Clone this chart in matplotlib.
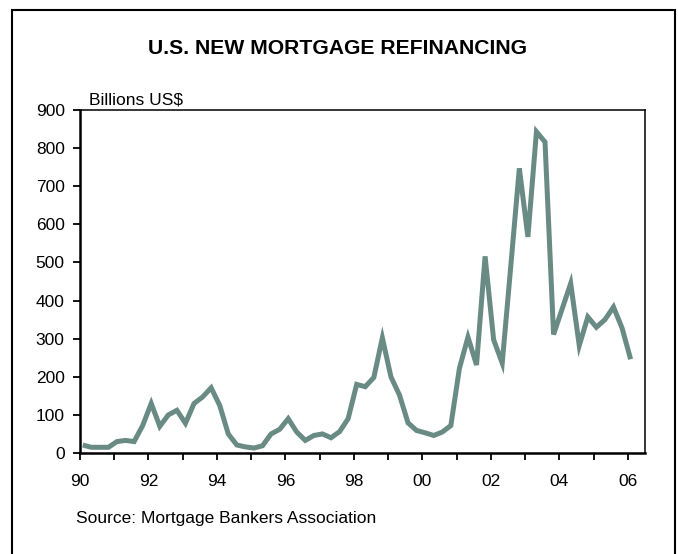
import numpy as np
import matplotlib
matplotlib.use("Agg")
import matplotlib.pyplot as plt
from matplotlib.patches import Rectangle
from matplotlib.ticker import FixedLocator

plt.rcParams['font.family'] = ['Liberation Sans', 'DejaVu Sans']

# Quarterly new mortgage refinancing, billions US$, 1990Q1 .. 2006Q1
refi = [21, 15, 15, 15, 30, 33, 30, 72,
        130, 70, 100, 112, 78, 130, 147, 171,
        125, 50, 21, 16, 13, 19, 50, 62,
        90, 55, 33, 46, 50, 40, 56, 90,
        180, 174, 198, 302, 200, 152, 79, 59,
        53, 46, 55, 72, 222, 304, 231, 516,
        297, 236, 490, 747, 567, 843, 816, 311,
        378, 445, 282, 357, 330, 350, 383, 328,
        246]
start_year = 1990
major_years = [1990, 1992, 1994, 1996, 1998, 2000, 2002, 2004, 2006]
major_labels = ['90', '92', '94', '96', '98', '00', '02', '04', '06']
minor_years = [1991, 1993, 1995, 1997, 1999, 2001, 2003, 2005]
y_ticks = [0, 100, 200, 300, 400, 500, 600, 700, 800, 900]

x = start_year + 0.08 + 0.25 * np.arange(len(refi))

W, H = 678, 554
fig = plt.figure(figsize=(W / 100, H / 100), dpi=100)

# outer frame
fig.patches.append(Rectangle((12 / W, -0.05), (674.7 - 12) / W, (1 - 10.3 / H) + 0.05,
                             transform=fig.transFigure, fill=False,
                             edgecolor='black', linewidth=1.5, zorder=0))

ax = fig.add_axes([80 / W, 1 - 453 / H, (645 - 80) / W, (453 - 110) / H])
ax.plot(x, refi, color='#6a8a84', linewidth=3.6, solid_joinstyle='miter',
        solid_capstyle='butt')

ax.set_xlim(1990, 2006.5)
ax.set_ylim(0, 900)
ax.set_yticks(y_ticks)
ax.xaxis.set_major_locator(FixedLocator(major_years))
ax.set_xticklabels(major_labels)
ax.xaxis.set_minor_locator(FixedLocator(minor_years))

for side in ['left', 'bottom']:
    ax.spines[side].set_linewidth(1.8)
for side in ['top', 'right']:
    ax.spines[side].set_linewidth(1.1)

ax.tick_params(axis='both', which='both', direction='out', length=5, width=1.3,
               labelsize=12.5, colors='black')
ax.tick_params(axis='x', which='both', pad=10)
ax.tick_params(axis='y', pad=6)

fig.text(337.5 / W, 1 - 54.3 / H, 'U.S. NEW MORTGAGE REFINANCING',
         ha='center', va='baseline', fontsize=15.2, fontweight='bold')
fig.text(89 / W, 1 - 104 / H, 'Billions US$', ha='left', va='baseline', fontsize=12.5)
fig.text(76 / W, 1 - 523 / H, 'Source: Mortgage Bankers Association',
         ha='left', va='baseline', fontsize=12.5)

fig.savefig('out.png', dpi=100)
